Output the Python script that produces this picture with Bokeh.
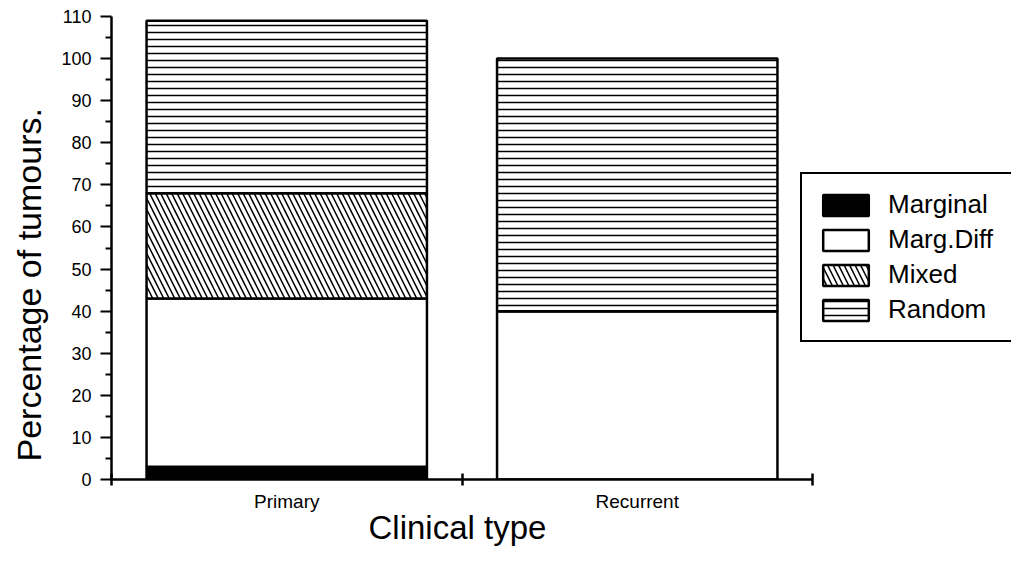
from bokeh.plotting import figure
from bokeh.models import ColumnDataSource, Range1d, FixedTicker, Legend, Title
from bokeh.embed import file_html
from bokeh.resources import INLINE

categories = ["Primary", "Recurrent"]
series = ["Marginal", "Marg.Diff", "Mixed", "Random"]
marginal = [3, 0]
marg_diff = [40, 40]
mixed = [25, 0]
random_ = [41, 60]

colors = ["black", "white", "white", "white"]
hatches = [" ", " ", "\\", "-"]
hatch_scales = [7, 7, 11, 7]

FONT = "Liberation Sans"

n = len(categories)
xpos = [i + 0.5 for i in range(n)]
source = ColumnDataSource(dict(x=xpos, Marginal=marginal, **{"Marg.Diff": marg_diff},
                               Mixed=mixed, Random=random_))

W, H = 1011, 555
LEFT, TOP, BOTTOM = 111, 16, 76
axis_px = 701                      # pixel length of the category axis
frame_px = W - LEFT
x_end = n * frame_px / axis_px     # let the frame run to the right edge so the legend is not clipped

p = figure(width=W, height=H, output_backend="svg", toolbar_location=None,
           x_range=Range1d(0, x_end), y_range=Range1d(0, 110),
           min_border_left=LEFT, min_border_top=TOP, min_border_right=0,
           min_border_bottom=BOTTOM)

renderers = p.vbar_stack(series, x="x", width=0.8, source=source,
                         fill_color=colors, line_color="black", line_width=2.5,
                         hatch_pattern=hatches, hatch_color="black", hatch_weight=1.5,
                         hatch_scale=hatch_scales)

p.outline_line_color = None
p.xgrid.visible = False
p.ygrid.visible = False
p.background_fill_color = "white"
p.border_fill_color = "white"

# y axis
ya = p.yaxis[0]
ya.ticker = FixedTicker(ticks=list(range(0, 111, 10)), minor_ticks=list(range(5, 110, 10)))
ya.axis_line_width = 2.5
ya.major_tick_line_width = 2
ya.major_tick_in = 0
ya.major_tick_out = 11
ya.minor_tick_line_width = 2
ya.minor_tick_in = 0
ya.minor_tick_out = 6
ya.major_label_text_font = FONT
ya.major_label_text_font_size = "18px"
ya.major_label_text_color = "black"
ya.major_label_standoff = 9

ytitle = Title(text="Percentage of tumours.", align="left", offset=18, standoff=18,
               vertical_align="top",
               text_font=FONT, text_font_size="34px", text_font_style="normal",
               text_color="black")
p.add_layout(ytitle, "left")

# x axis
xa = p.xaxis[0]
xa.bounds = (0, n)
xa.ticker = FixedTicker(ticks=xpos, minor_ticks=list(range(0, n + 1)))
xa.major_label_overrides = {x: c for x, c in zip(xpos, categories)}
xa.axis_line_width = 2.5
xa.major_tick_in = 0
xa.major_tick_out = 0
xa.minor_tick_line_width = 2.5
xa.minor_tick_in = 6
xa.minor_tick_out = 6
xa.major_label_text_font = FONT
xa.major_label_text_font_size = "19px"
xa.major_label_text_color = "black"
xa.major_label_standoff = 5

xtitle = Title(text="Clinical type", align="left", offset=257, standoff=-12,
               vertical_align="top",
               text_font=FONT, text_font_size="33px", text_font_style="normal",
               text_color="black")
p.add_layout(xtitle, "below")

legend = Legend(items=[(s, [r]) for s, r in zip(series, renderers)],
                location=(689, 137))
legend.glyph_width = 57
legend.glyph_height = 26
legend.spacing = 4
legend.padding = 15
legend.margin = 0
legend.label_standoff = 14
legend.label_width = 110
legend.label_text_font = FONT
legend.label_text_font_size = "26px"
legend.label_text_color = "black"
legend.border_line_color = "black"
legend.border_line_alpha = 1
legend.border_line_width = 2
legend.background_fill_alpha = 1
p.add_layout(legend, "center")

open("out.html", "w").write(file_html(p, INLINE))
